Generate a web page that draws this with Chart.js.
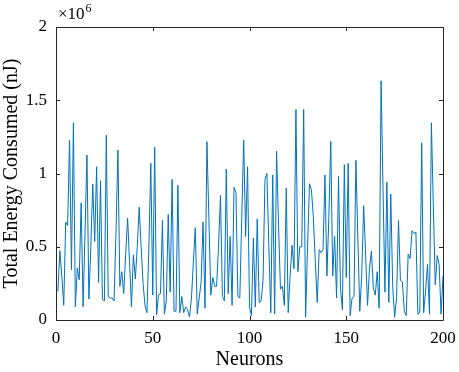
<!DOCTYPE html>
<html>
<head>
<meta charset="utf-8">
<script src="https://cdn.jsdelivr.net/npm/chart.js@4/dist/chart.umd.min.js"></script>
<style>
html,body{margin:0;padding:0;background:#fff;}
#wrap{width:459px;height:372px;position:relative;}
</style>
</head>
<body>
<div id="wrap"><canvas id="c" width="459" height="372"></canvas></div>
<script>
// Neuron index (x) and total energy consumed in units of 1e6 nJ (y)
const neurons = [];
for (let i = 1; i <= 200; i++) neurons.push(i);
const energyE6 = [
  0.195,0.474,0.30,0.10,0.667,0.645,1.228,0.343,1.346,0.09,
  0.354,0.275,0.80,0.09,0.60,1.126,0.143,0.50,0.928,0.536,
  1.046,0.256,0.95,0.14,0.13,1.262,0.16,0.15,0.15,0.13,
  0.60,1.16,0.23,0.33,0.18,0.45,0.695,0.40,0.09,0.445,
  0.28,0.50,0.77,0.50,0.25,0.10,0.05,0.50,1.07,0.17,
  1.18,0.036,0.17,0.18,0.68,0.04,0.13,0.72,0.19,0.96,
  0.06,0.06,0.92,0.05,0.16,0.05,0.09,0.07,0.02,0.15,
  0.40,0.63,0.04,0.15,0.26,0.67,0.08,1.217,0.70,0.17,
  0.29,0.23,0.23,0.50,0.85,0.16,0.13,1.03,0.18,0.57,
  0.10,0.906,0.87,0.16,0.15,0.70,1.228,0.57,1.046,0.09,
  0.03,0.56,0.09,0.69,0.12,0.13,0.27,0.96,1.00,0.50,
  0.05,0.99,0.04,1.153,0.65,0.21,0.23,0.10,0.90,0.05,
  0.30,0.51,0.35,1.437,0.33,0.50,0.50,1.437,0.02,0.50,
  0.93,0.89,0.70,0.40,0.12,0.48,0.46,0.48,0.99,0.30,
  0.70,1.22,0.30,0.57,0.15,0.98,0.22,0.07,1.06,0.29,
  1.07,0.03,0.15,0.16,1.09,0.56,0.06,0.31,0.78,0.45,
  0.10,0.35,0.47,0.22,0.17,0.33,0.08,1.632,0.90,0.19,
  0.94,0.12,0.86,0.23,0.02,0.15,0.68,0.27,0.26,0.06,
  0.03,0.45,0.42,0.61,0.59,0.60,0.04,0.05,1.21,0.05,
  0.20,0.38,0.04,1.346,0.78,0.24,0.44,0.38,0.04,0.30
];
const xTicks = [0, 50, 100, 150, 200];
const yTicks = [0, 0.5, 1, 1.5, 2];
const xTitle = 'Neurons';
const yTitle = 'Total Energy Consumed (nJ)';
const exponentBase = '\u00d710';
const exponentPower = '6';

const FONT = '"Liberation Serif", "Times New Roman", serif';
const AXIS_COLOR = '#262626';

const boxPlugin = {
  id: 'matlabBox',
  afterDraw(chart) {
    const ctx = chart.ctx;
    const a = chart.chartArea;
    const xs = chart.scales.x, ys = chart.scales.y;
    const L = 4;
    ctx.save();
    ctx.strokeStyle = AXIS_COLOR;
    ctx.lineWidth = 1;
    ctx.beginPath();
    ctx.rect(Math.round(a.left) + 0.5, Math.round(a.top) + 0.5,
             Math.round(a.right) - Math.round(a.left), Math.round(a.bottom) - Math.round(a.top));
    ctx.stroke();
    ctx.beginPath();
    xs.ticks.forEach(t => {
      const px = Math.round(xs.getPixelForValue(t.value)) + 0.5;
      ctx.moveTo(px, a.bottom); ctx.lineTo(px, a.bottom - L);
      ctx.moveTo(px, a.top); ctx.lineTo(px, a.top + L);
    });
    ys.ticks.forEach(t => {
      const py = Math.round(ys.getPixelForValue(t.value)) + 0.5;
      ctx.moveTo(a.left, py); ctx.lineTo(a.left + L, py);
      ctx.moveTo(a.right, py); ctx.lineTo(a.right - L, py);
    });
    ctx.stroke();
    // exponent label
    ctx.fillStyle = '#000';
    ctx.textBaseline = 'alphabetic';
    ctx.textAlign = 'left';
    ctx.font = '17px ' + FONT;
    const bx = a.left + 2;
    const by = a.top - 8;
    ctx.fillText(exponentBase, bx, by);
    const w = ctx.measureText(exponentBase).width;
    ctx.font = '12px ' + FONT;
    ctx.fillText(exponentPower, bx + w + 1, by - 7);
    ctx.restore();
  }
};

new Chart(document.getElementById('c'), {
  type: 'line',
  data: {
    datasets: [{
      data: neurons.map((n, i) => ({ x: n, y: energyE6[i] })),
      borderColor: '#0072BD',
      borderWidth: 1,
      pointRadius: 0,
      tension: 0,
      fill: false
    }]
  },
  options: {
    responsive: false,
    animation: false,
    devicePixelRatio: 1,
    layout: { padding: { top: 27, right: 16, left: 0, bottom: 0 } },
    plugins: { legend: { display: false }, tooltip: { enabled: false } },
    scales: {
      x: {
        type: 'linear', min: 0, max: 200,
        afterBuildTicks(s) { s.ticks = xTicks.map(v => ({ value: v })); },
        afterFit(s) { s.height = 52; s.paddingLeft = 0; s.paddingRight = 0; },
        grid: { display: false, drawTicks: false },
        border: { display: false },
        ticks: { color: '#000', font: { family: FONT, size: 17 }, padding: 8, maxRotation: 0,
                 callback: v => String(v) },
        title: { display: true, text: xTitle, color: '#000', font: { family: FONT, size: 20 }, padding: { top: 2, bottom: 0 } }
      },
      y: {
        type: 'linear', min: 0, max: 2,
        afterBuildTicks(s) { s.ticks = yTicks.map(v => ({ value: v })); },
        afterFit(s) { s.width = 56; s.paddingTop = 0; s.paddingBottom = 0; },
        grid: { display: false, drawTicks: false },
        border: { display: false },
        ticks: { color: '#000', font: { family: FONT, size: 17 }, padding: 9,
                 callback: v => String(v) },
        title: { display: true, text: yTitle, color: '#000', font: { family: FONT, size: 20 }, padding: { top: 0, bottom: 0 } }
      }
    }
  },
  plugins: [boxPlugin]
});
</script>
</body>
</html>
